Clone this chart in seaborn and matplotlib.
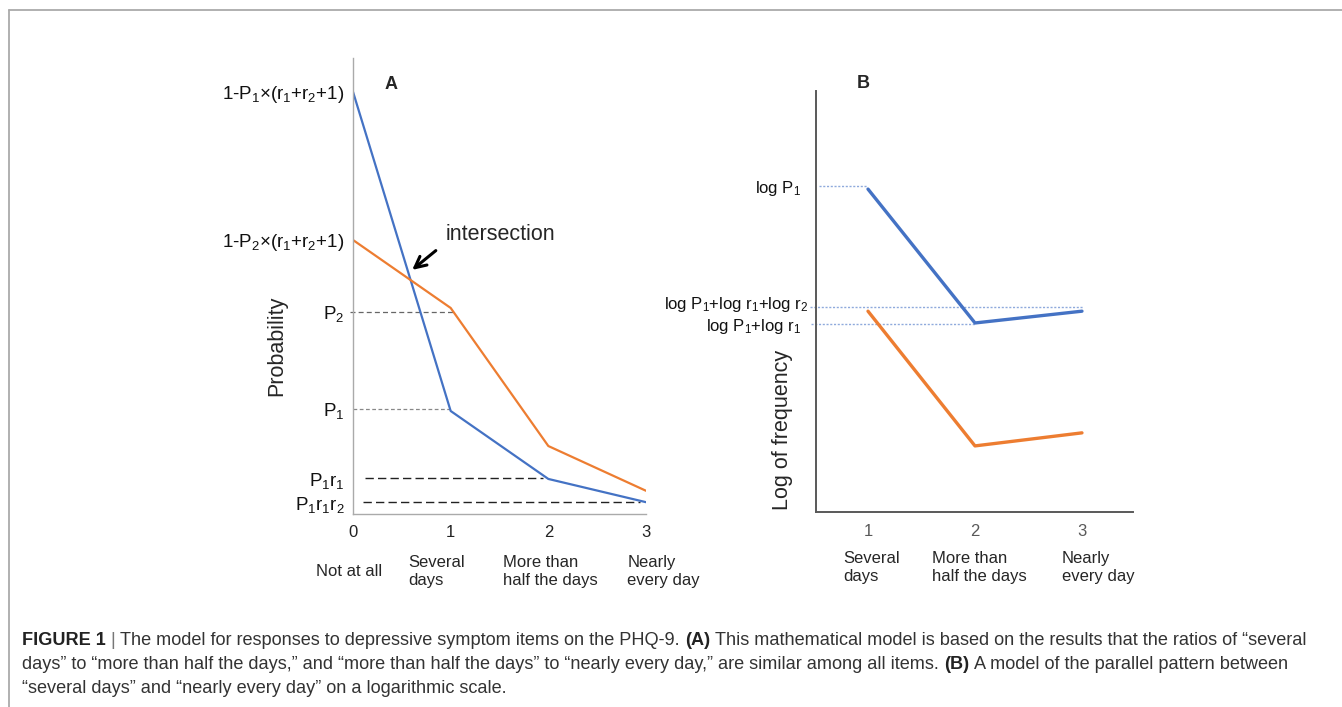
#recria a figura 1 (modelo de respostas do PHQ-9) com dois painéis A e B
import matplotlib
matplotlib.use("Agg")
import matplotlib.pyplot as plt
import matplotlib.transforms as mtransforms
from matplotlib.lines import Line2D
import pandas as pd
import seaborn as sns

# painel A: probabilidades (unidades arbitrárias)
respostas_a = [0, 1, 2, 3]
prob_azul = [1.0, 0.244, 0.083, 0.028]
prob_laranja = [0.649, 0.488, 0.161, 0.055]
niveis_a = [1.0, 0.649, 0.479, 0.249, 0.085, 0.028]
rotulos_a = ["1-P$_1$×(r$_1$+r$_2$+1)", "1-P$_2$×(r$_1$+r$_2$+1)",
             "P$_2$", "P$_1$", "P$_1$r$_1$", "P$_1$r$_1$r$_2$"]
categorias_a = ["Not at all", "Several\ndays", "More than\nhalf the days", "Nearly\nevery day"]

# linhas tracejadas de referência do painel A (nível, início, fim)
guia_a_nivel = [0.479, 0.249, 0.085, 0.028]
guia_a_ini = [-0.03, 0.0, 0.12, 0.10]
guia_a_fim = [1.04, 1.0, 1.95, 2.94]

# painel B: log da frequência
respostas_b = [1, 2, 3]
log_azul = [0.767, 0.449, 0.477]
log_laranja = [0.477, 0.157, 0.188]
niveis_b = [0.774, 0.487, 0.447]
rotulos_b = ["log P$_1$", "log P$_1$+log r$_1$+log r$_2$", "log P$_1$+log r$_1$"]
categorias_b = ["Several\ndays", "More than\nhalf the days", "Nearly\nevery day"]
guia_b_ini = [0.54, 0.46, 0.47]
guia_b_fim = [0.99, 3.01, 2.0]

AZUL = "#4472C4"
LARANJA = "#ED7D31"

sns.set_style("white")
plt.rcParams["font.family"] = ["Liberation Sans", "DejaVu Sans"]
plt.rcParams["mathtext.fontset"] = "custom"
plt.rcParams["mathtext.rm"] = "Liberation Sans"
plt.rcParams["mathtext.it"] = "Liberation Sans:italic"
plt.rcParams["mathtext.bf"] = "Liberation Sans:bold"
plt.rcParams["mathtext.default"] = "regular"

fig = plt.figure(figsize=(13.42, 7.07), dpi=100)
W, H = 1342, 707

# moldura cinza (topo e esquerda)
fig.add_artist(Line2D([9 / W, 1], [1 - 10 / H] * 2, transform=fig.transFigure, color="#aaaaaa", lw=1.3))
fig.add_artist(Line2D([9 / W] * 2, [0, 1 - 10 / H], transform=fig.transFigure, color="#aaaaaa", lw=1.3))

# ---------------- painel A ----------------
ax_a = fig.add_axes([353 / W, 1 - 514 / H, 293 / W, 456 / H])
df_a = pd.DataFrame({
    "resposta": respostas_a * 2,
    "prob": prob_azul + prob_laranja,
    "serie": ["azul"] * 4 + ["laranja"] * 4,
})
sns.lineplot(data=df_a, x="resposta", y="prob", hue="serie", palette=[AZUL, LARANJA],
             linewidth=1.6, legend=False, ax=ax_a)
ax_a.set_xlim(0, 3)
ax_a.set_ylim(0, 1.08)

estilos_a = [("#666666", (0, (4, 2.5)), 0.9), ("#888888", (0, (3, 2)), 0.9),
             ("#222222", (0, (6, 3)), 1.0), ("#222222", (0, (6, 3)), 1.0)]
for nivel, x0, x1, (cor, ls, lw) in zip(guia_a_nivel, guia_a_ini, guia_a_fim, estilos_a):
    ax_a.plot([x0, x1], [nivel, nivel], color=cor, linestyle=ls, lw=lw, clip_on=False, zorder=1)

ax_a.set_yticks(niveis_a)
ax_a.set_yticklabels(rotulos_a, fontsize=13.5, color="#111111")
ax_a.set_xticks(respostas_a)
ax_a.set_xticklabels([str(r) for r in respostas_a], fontsize=12, color="#222222")
ax_a.tick_params(axis="y", length=0, pad=6)
ax_a.tick_params(axis="x", length=3, width=1, color="#aaaaaa", pad=5)
for lado in ["top", "right"]:
    ax_a.spines[lado].set_visible(False)
for lado in ["left", "bottom"]:
    ax_a.spines[lado].set_color("#aaaaaa")
    ax_a.spines[lado].set_linewidth(1.0)
ax_a.set_xlabel("")
ax_a.set_ylabel("")

ax_a.text(-0.259, 0.368, "Probability", rotation=90, ha="center", va="center",
          fontsize=15.5, transform=ax_a.transAxes)
ax_a.text(0.130, 0.941, "A", fontsize=13, fontweight="bold", ha="center", va="center",
          transform=ax_a.transAxes)

ax_a.annotate("", xy=(0.584, 0.574), xytext=(0.87, 0.628),
              arrowprops=dict(arrowstyle="->", lw=2.2, color="black", mutation_scale=20))
ax_a.text(0.952, 0.661, "intersection", fontsize=15.5, ha="left", va="center")

trans_a = mtransforms.blended_transform_factory(ax_a.transData, ax_a.transAxes)
for x, cat in zip([-0.04, 0.86, 2.02, 3.18], categorias_a):
    ax_a.text(x, -0.126, cat, transform=trans_a, ha="center", va="center",
              multialignment="left", fontsize=12, linespacing=1.25)

# ---------------- painel B ----------------
ax_b = fig.add_axes([816 / W, 1 - 512 / H, 317 / W, 421 / H])
df_b = pd.DataFrame({
    "resposta": respostas_b * 2,
    "log": log_azul + log_laranja,
    "serie": ["azul"] * 3 + ["laranja"] * 3,
})
sns.lineplot(data=df_b, x="resposta", y="log", hue="serie", palette=[AZUL, LARANJA],
             linewidth=2.4, legend=False, ax=ax_b)
ax_b.set_xlim(0.514, 3.477)
ax_b.set_ylim(0, 1.0)

for nivel, x0, x1 in zip(niveis_b, guia_b_ini, guia_b_fim):
    ax_b.plot([x0, x1], [nivel, nivel], color="#8FAADC", linestyle=(0, (1.5, 1.2)), lw=1.0,
              clip_on=False, zorder=1)

ax_b.set_yticks(niveis_b)
ax_b.set_yticklabels(rotulos_b, fontsize=12, color="#111111")
ax_b.set_xticks(respostas_b)
ax_b.set_xticklabels([str(r) for r in respostas_b], fontsize=12, color="#595959")
ax_b.tick_params(axis="y", length=0, pad=11)
ax_b.tick_params(axis="x", length=0, pad=9)
for lado in ["top", "right"]:
    ax_b.spines[lado].set_visible(False)
for lado in ["left", "bottom"]:
    ax_b.spines[lado].set_color("#595959")
    ax_b.spines[lado].set_linewidth(1.4)
ax_b.set_xlabel("")
ax_b.set_ylabel("")

# o rótulo mais longo fica um pouco acima da linha, como no original
rot_longo = ax_b.get_yticklabels()[1]
rot_longo.set_transform(rot_longo.get_transform() +
                        mtransforms.ScaledTranslation(0.08, 0.05, fig.dpi_scale_trans))

ax_b.text(-0.107, 0.195, "Log of frequency", rotation=90, ha="center", va="center",
          fontsize=15.5, transform=ax_b.transAxes)
ax_b.text(0.148, 1.017, "B", fontsize=13, fontweight="bold", ha="center", va="center",
          transform=ax_b.transAxes)

trans_b = mtransforms.blended_transform_factory(ax_b.transData, ax_b.transAxes)
for x, cat in zip([1.03, 2.04, 3.15], categorias_b):
    ax_b.text(x, -0.133, cat, transform=trans_b, ha="center", va="center",
              multialignment="left", fontsize=12, linespacing=1.25)

# ---------------- legenda da figura ----------------
linhas_legenda = [
    [("FIGURE 1", "bold", "#222222"), (" | ", "normal", "#777777"),
     ("The model for responses to depressive symptom items on the PHQ-9. ", "normal", "#333333"),
     ("(A)", "bold", "#222222"),
     (" This mathematical model is based on the results that the ratios of \u201cseveral", "normal", "#333333")],
    [("days\u201d to \u201cmore than half the days,\u201d and \u201cmore than half the days\u201d to "
      "\u201cnearly every day,\u201d are similar among all items. ", "normal", "#333333"),
     ("(B)", "bold", "#222222"),
     (" A model of the parallel pattern between", "normal", "#333333")],
    [("\u201cseveral days\u201d and \u201cnearly every day\u201d on a logarithmic scale.", "normal", "#333333")],
]
tam_leg = 13.1
renderer = fig.canvas.get_renderer()


def largura(txt, peso):
    t = fig.text(0, 0, txt, fontsize=tam_leg, fontweight=peso)
    w = t.get_window_extent(renderer).width
    t.remove()
    return w


for i, segmentos in enumerate(linhas_legenda):
    x = 22.0
    y = 1 - (645 + 24 * i) / H
    for txt, peso, cor in segmentos:
        esp = largura("x x", peso) - largura("xx", peso)
        miolo = txt.strip(" ")
        x += esp * (len(txt) - len(txt.lstrip(" ")))
        t = fig.text(x / W, y, miolo, fontsize=tam_leg, fontweight=peso, color=cor, va="baseline")
        x += t.get_window_extent(renderer).width
        x += esp * (len(txt) - len(txt.rstrip(" ")))

fig.savefig("out.png", dpi=100)
